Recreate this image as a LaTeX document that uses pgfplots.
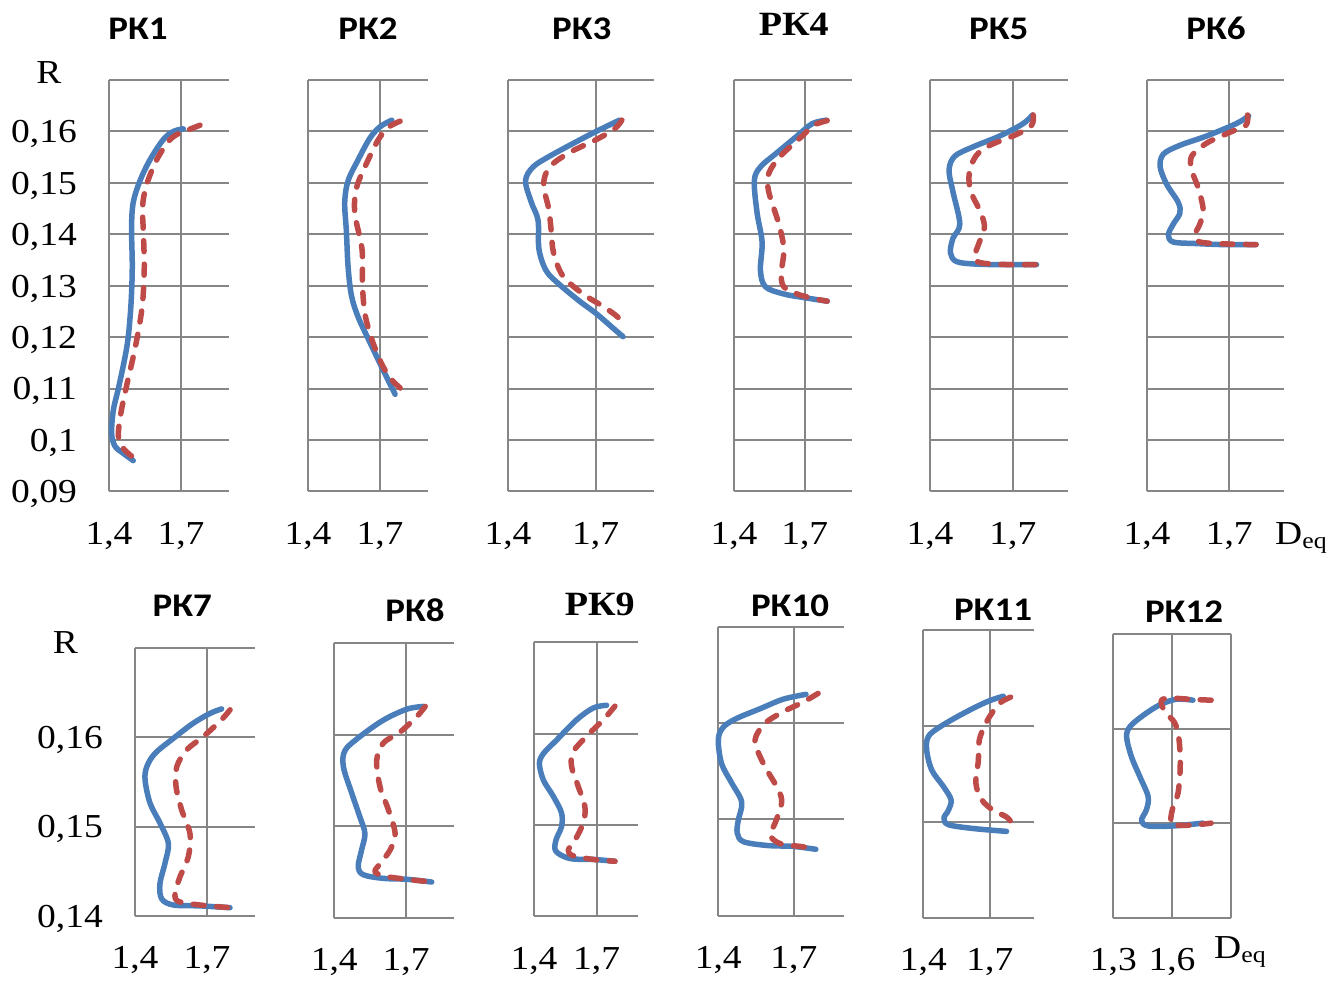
\documentclass[border=0pt]{standalone}
\usepackage{fontspec}
\setmainfont{Liberation Serif}[FakeStretch=1.12]
\newfontfamily\tsans{Carlito}[FakeStretch=1.12]
\usepackage{pgfplots}
\pgfplotsset{compat=1.18}
\definecolor{myblue}{RGB}{74,126,187}
\definecolor{myred}{RGB}{190,75,72}
\definecolor{gridgray}{RGB}{134,134,134}
\newcommand\tickfont{\fontsize{33.5}{33.5}\selectfont}
\newcommand\ttl[1]{{\tsans\bfseries\fontsize{33}{33}\selectfont #1}}
\newcommand\ttls[1]{{\bfseries\fontsize{34}{34}\selectfont #1}}
\pgfplotsset{
  panel/.style={scale only axis, clip=false, anchor=south west,
    axis line style={draw=none}, tick style={draw=none}, major tick length=0pt,
    grid=major, major grid style={line width=2pt, draw=gridgray},
    xmin=1.4, xmax=1.9, xtick={1.4,1.7}, xticklabels={{1,4},{1,7}},
    ticklabel style={font=\tickfont},
    xticklabel style={anchor=base, inner sep=0pt, yshift=-53pt},
    yticklabel style={anchor=base east, inner sep=0pt, xshift=-32pt, yshift=-11.3pt},
    yticklabels={}},
  toprow/.style={ymin=0.09, ymax=0.17, ytick={0.09,0.10,0.11,0.12,0.13,0.14,0.15,0.16,0.17}},
  toplab/.style={yticklabels={{0,09},{0,1},{0,11},{0,12},{0,13},{0,14},{0,15},{0,16},{}}},
  botrow/.style={ymin=0.14, ymax=0.17, ytick={0.14,0.15,0.16,0.17}},
  botlab/.style={yticklabels={{0,14},{0,15},{0,16},{}}},
  bl/.style={color=myblue, line width=5.5pt, smooth, tension=0.55, line cap=round, line join=round, mark=none},
  rd/.style={color=myred, line width=5.5pt, smooth, tension=0.55, line cap=round, line join=round, dash pattern=on 11pt off 12.5pt, mark=none},
}
\begin{document}
\begin{tikzpicture}
\useasboundingbox (0pt,0pt) rectangle (1340pt,980pt);
% ---------- PK1
\begin{axis}[panel, toprow, toplab, at={(109pt,488.5pt)}, width=120pt, height=411.5pt]
\addplot[bl] coordinates {(1.501,0.0960) (1.460,0.0974) (1.425,0.0988) (1.411,0.1013) (1.418,0.1058) (1.439,0.1100) (1.467,0.1162) (1.481,0.1204) (1.492,0.1267) (1.497,0.1337) (1.494,0.1413) (1.501,0.1462) (1.529,0.1504) (1.571,0.1545) (1.626,0.1584) (1.668,0.1600) (1.710,0.1605)};
\addplot[rd] coordinates {(1.779,0.1612) (1.724,0.1602) (1.682,0.1594) (1.647,0.1580) (1.599,0.1545) (1.557,0.1497) (1.540,0.1455) (1.543,0.1406) (1.547,0.1337) (1.540,0.1267) (1.522,0.1211) (1.501,0.1162) (1.474,0.1107) (1.449,0.1051) (1.439,0.1009) (1.453,0.0988) (1.488,0.0971) (1.522,0.0960)};
\end{axis}
% ---------- PK2
\begin{axis}[panel, toprow, at={(308pt,488.5pt)}, width=120pt, height=411.5pt]
\addplot[bl] coordinates {(1.749,0.1622) (1.700,0.1609) (1.658,0.1587) (1.609,0.1545) (1.567,0.1504) (1.553,0.1462) (1.560,0.1406) (1.567,0.1337) (1.581,0.1281) (1.609,0.1239) (1.658,0.1190) (1.707,0.1142) (1.763,0.1089)};
\addplot[rd] coordinates {(1.784,0.1620) (1.735,0.1608) (1.693,0.1584) (1.644,0.1538) (1.602,0.1490) (1.595,0.1441) (1.625,0.1371) (1.627,0.1302) (1.637,0.1246) (1.665,0.1197) (1.707,0.1148) (1.749,0.1117) (1.805,0.1093)};
\end{axis}
% ---------- PK3
\begin{axis}[panel, toprow, at={(508pt,488.5pt)}, width=146pt, height=411.5pt]
\addplot[bl] coordinates {(1.782,0.1622) (1.702,0.1600) (1.634,0.1580) (1.543,0.1552) (1.486,0.1531) (1.460,0.1504) (1.480,0.1462) (1.503,0.1427) (1.506,0.1371) (1.531,0.1329) (1.577,0.1302) (1.645,0.1270) (1.702,0.1246) (1.759,0.1218) (1.794,0.1201)};
\addplot[rd] coordinates {(1.790,0.1622) (1.765,0.1605) (1.702,0.1584) (1.611,0.1559) (1.543,0.1531) (1.522,0.1497) (1.540,0.1448) (1.548,0.1406) (1.556,0.1364) (1.588,0.1319) (1.657,0.1284) (1.725,0.1260) (1.776,0.1239) (1.794,0.1222)};
\end{axis}
% ---------- PK4
\begin{axis}[panel, toprow, at={(734pt,488.5pt)}, width=118pt, height=411.5pt]
\addplot[bl] coordinates {(1.792,0.1622) (1.731,0.1615) (1.667,0.1591) (1.583,0.1559) (1.512,0.1531) (1.486,0.1504) (1.498,0.1441) (1.519,0.1385) (1.512,0.1330) (1.533,0.1298) (1.611,0.1284) (1.696,0.1277) (1.795,0.1270)};
\addplot[rd] coordinates {(1.795,0.1621) (1.738,0.1612) (1.689,0.1591) (1.597,0.1552) (1.547,0.1518) (1.547,0.1483) (1.590,0.1420) (1.611,0.1371) (1.600,0.1323) (1.611,0.1298) (1.667,0.1284) (1.738,0.1275) (1.795,0.1270)};
\end{axis}
% ---------- PK5
\begin{axis}[panel, toprow, at={(930pt,488.5pt)}, width=138pt, height=411.5pt]
\addplot[bl] coordinates {(1.771,0.1632) (1.737,0.1615) (1.652,0.1591) (1.556,0.1570) (1.490,0.1552) (1.469,0.1525) (1.483,0.1483) (1.508,0.1420) (1.483,0.1392) (1.474,0.1364) (1.496,0.1347) (1.568,0.1342) (1.677,0.1341) (1.786,0.1341)};
\addplot[rd] coordinates {(1.774,0.1632) (1.768,0.1612) (1.713,0.1594) (1.617,0.1573) (1.566,0.1552) (1.542,0.1518) (1.548,0.1483) (1.585,0.1441) (1.597,0.1413) (1.579,0.1385) (1.561,0.1354) (1.591,0.1344) (1.694,0.1341) (1.786,0.1341)};
\end{axis}
% ---------- PK6
\begin{axis}[panel, toprow, at={(1147pt,488.5pt)}, width=137pt, height=411.5pt]
\addplot[bl] coordinates {(1.771,0.1630) (1.725,0.1615) (1.617,0.1591) (1.520,0.1573) (1.460,0.1556) (1.448,0.1531) (1.472,0.1497) (1.514,0.1462) (1.520,0.1441) (1.496,0.1420) (1.478,0.1399) (1.496,0.1385) (1.581,0.1382) (1.677,0.1380) (1.798,0.1380)};
\addplot[rd] coordinates {(1.767,0.1632) (1.761,0.1612) (1.701,0.1598) (1.617,0.1577) (1.563,0.1552) (1.563,0.1525) (1.587,0.1490) (1.605,0.1448) (1.593,0.1420) (1.575,0.1399) (1.593,0.1385) (1.701,0.1381) (1.798,0.1380)};
\end{axis}
% ---------- PK7
\begin{axis}[panel, botrow, botlab, at={(135pt,64.3pt)}, width=120pt, height=267.4pt]
\addplot[bl] coordinates {(1.761,0.1632) (1.713,0.1627) (1.643,0.1616) (1.560,0.1599) (1.483,0.1582) (1.449,0.1567) (1.442,0.1552) (1.463,0.1526) (1.504,0.1504) (1.539,0.1481) (1.525,0.1459) (1.504,0.1436) (1.511,0.1419) (1.560,0.1412) (1.671,0.1411) (1.796,0.1409)};
\addplot[rd] coordinates {(1.796,0.1631) (1.761,0.1620) (1.685,0.1601) (1.615,0.1586) (1.574,0.1567) (1.571,0.1545) (1.594,0.1519) (1.629,0.1492) (1.622,0.1466) (1.588,0.1444) (1.567,0.1425) (1.581,0.1416) (1.671,0.1412) (1.796,0.1409)};
\end{axis}
% ---------- PK8
\begin{axis}[panel, botrow, at={(334.3pt,62.3pt)}, width=119.7pt, height=274.4pt]
\addplot[bl] coordinates {(1.773,0.1631) (1.703,0.1628) (1.605,0.1616) (1.507,0.1598) (1.445,0.1583) (1.438,0.1565) (1.473,0.1536) (1.507,0.1510) (1.528,0.1492) (1.514,0.1474) (1.500,0.1456) (1.521,0.1447) (1.605,0.1443) (1.703,0.1442) (1.807,0.1439)};
\addplot[rd] coordinates {(1.780,0.1631) (1.745,0.1620) (1.675,0.1603) (1.605,0.1591) (1.577,0.1572) (1.591,0.1543) (1.626,0.1518) (1.654,0.1492) (1.633,0.1474) (1.591,0.1459) (1.570,0.1450) (1.619,0.1445) (1.703,0.1442) (1.807,0.1439)};
\end{axis}
% ---------- PK9
\begin{axis}[panel, botrow, at={(534pt,64pt)}, width=104.3pt, height=273.7pt]
\addplot[bl] coordinates {(1.748,0.1631) (1.684,0.1628) (1.604,0.1615) (1.509,0.1593) (1.445,0.1578) (1.426,0.1567) (1.445,0.1549) (1.493,0.1531) (1.532,0.1513) (1.532,0.1498) (1.505,0.1483) (1.505,0.1471) (1.572,0.1463) (1.684,0.1462) (1.788,0.1460)};
\addplot[rd] coordinates {(1.788,0.1630) (1.732,0.1615) (1.652,0.1597) (1.588,0.1580) (1.580,0.1564) (1.612,0.1542) (1.644,0.1520) (1.636,0.1502) (1.596,0.1483) (1.564,0.1472) (1.588,0.1466) (1.684,0.1462) (1.788,0.1460)};
\end{axis}
% ---------- PK10
\begin{axis}[panel, botrow, at={(718.3pt,64.3pt)}, width=126pt, height=288.7pt]
\addplot[bl] coordinates {(1.748,0.1630) (1.658,0.1625) (1.565,0.1615) (1.473,0.1605) (1.420,0.1596) (1.400,0.1583) (1.413,0.1558) (1.453,0.1538) (1.493,0.1518) (1.479,0.1499) (1.475,0.1486) (1.499,0.1477) (1.592,0.1473) (1.697,0.1472) (1.787,0.1469)};
\addplot[rd] coordinates {(1.796,0.1631) (1.737,0.1622) (1.658,0.1612) (1.585,0.1600) (1.549,0.1586) (1.549,0.1576) (1.585,0.1555) (1.638,0.1531) (1.651,0.1517) (1.625,0.1496) (1.605,0.1484) (1.644,0.1475) (1.724,0.1472) (1.777,0.1470)};
\end{axis}
% ---------- PK11
\begin{axis}[panel, botrow, at={(923.3pt,62.3pt)}, width=111pt, height=287.7pt]
\addplot[bl] coordinates {(1.760,0.1631) (1.685,0.1625) (1.580,0.1613) (1.475,0.1599) (1.423,0.1589) (1.415,0.1575) (1.438,0.1554) (1.490,0.1537) (1.525,0.1523) (1.513,0.1512) (1.493,0.1504) (1.513,0.1497) (1.625,0.1493) (1.775,0.1490)};
\addplot[rd] coordinates {(1.793,0.1630) (1.745,0.1624) (1.708,0.1613) (1.678,0.1601) (1.652,0.1585) (1.648,0.1564) (1.637,0.1540) (1.663,0.1523) (1.715,0.1512) (1.775,0.1505) (1.805,0.1497)};
\end{axis}
% ---------- PK12
\begin{axis}[panel, botrow, at={(1113.3pt,62.3pt)}, width=117.4pt, height=283.7pt,
  xmin=1.3, xmax=1.9, xtick={1.3,1.6,1.9}, xticklabels={{1,3},{1,6},{}}]
\addplot[bl] coordinates {(1.707,0.1630) (1.622,0.1631) (1.537,0.1625) (1.453,0.1614) (1.385,0.1602) (1.368,0.1591) (1.393,0.1570) (1.436,0.1549) (1.478,0.1528) (1.469,0.1514) (1.444,0.1503) (1.478,0.1497) (1.605,0.1497) (1.758,0.1500)};
\addplot[rd] coordinates {(1.800,0.1630) (1.690,0.1631) (1.605,0.1632) (1.546,0.1630) (1.563,0.1618) (1.614,0.1606) (1.636,0.1588) (1.642,0.1560) (1.631,0.1532) (1.605,0.1517) (1.593,0.1503) (1.605,0.1498) (1.707,0.1498) (1.800,0.1500)};
\end{axis}
% ---------- titles and axis names
\node[anchor=base, inner sep=0pt] at (138pt,940pt) {\ttl{РК1}};
\node[anchor=base, inner sep=0pt] at (368pt,940pt) {\ttl{РК2}};
\node[anchor=base, inner sep=0pt] at (581.7pt,940.5pt) {\ttl{РК3}};
\node[anchor=base, inner sep=0pt] at (793.7pt,944.3pt) {\ttls{РК4}};
\node[anchor=base, inner sep=0pt] at (998.7pt,940.5pt) {\ttl{РК5}};
\node[anchor=base, inner sep=0pt] at (1216pt,940.5pt) {\ttl{РК6}};
\node[anchor=base, inner sep=0pt] at (182.3pt,363.3pt) {\ttl{РК7}};
\node[anchor=base, inner sep=0pt] at (415pt,358.3pt) {\ttl{РК8}};
\node[anchor=base, inner sep=0pt] at (599.7pt,364pt) {\ttls{РК9}};
\node[anchor=base, inner sep=0pt] at (790pt,363.3pt) {\ttl{РК10}};
\node[anchor=base, inner sep=0pt] at (993pt,359.3pt) {\ttl{РК11}};
\node[anchor=base, inner sep=0pt] at (1184pt,357.3pt) {\ttl{РК12}};
\node[anchor=base, inner sep=0pt] at (49pt,896pt) {\tickfont R};
\node[anchor=base, inner sep=0pt] at (65.5pt,326pt) {\tickfont R};
\node[anchor=base west, inner sep=0pt] at (1275pt,435pt) {\tickfont D\raisebox{-4pt}{\fontsize{23}{23}\selectfont eq}};
\node[anchor=base west, inner sep=0pt] at (1214pt,21.7pt) {\tickfont D\raisebox{-4pt}{\fontsize{23}{23}\selectfont eq}};
\end{tikzpicture}
\end{document}
